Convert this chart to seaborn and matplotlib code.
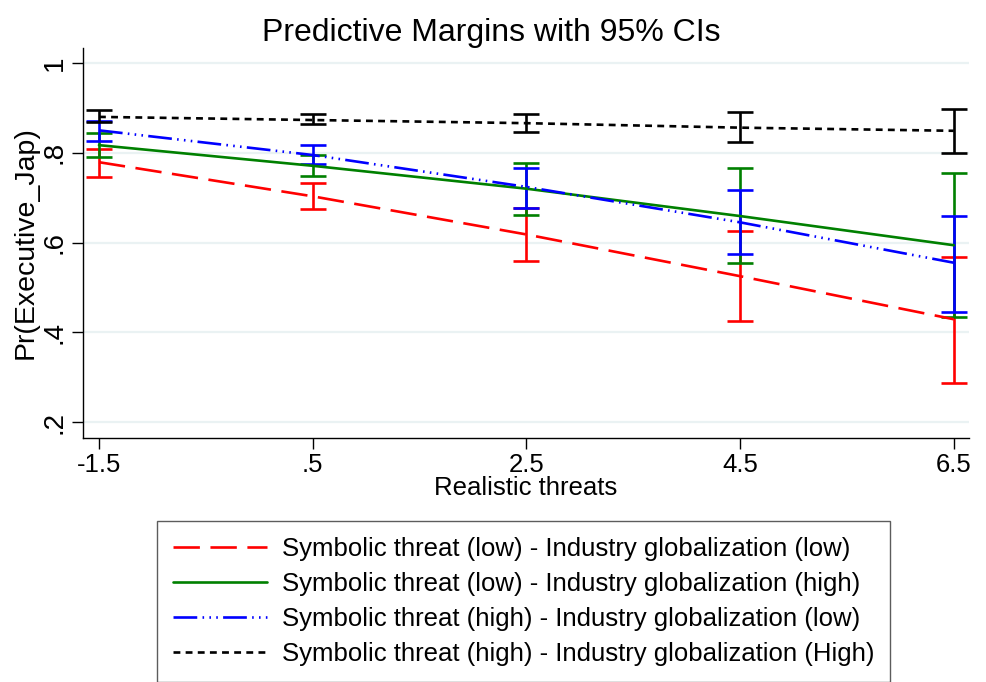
import numpy as np
import pandas as pd
import matplotlib
matplotlib.use("Agg")
import matplotlib.pyplot as plt
import seaborn as sns

# ---- data ----
x_values = [-1.5, 0.5, 2.5, 4.5, 6.5]
x_ticklabels = ["-1.5", ".5", "2.5", "4.5", "6.5"]
y_ticks = [0.2, 0.4, 0.6, 0.8, 1.0]
y_ticklabels = [".2", ".4", ".6", ".8", "1"]

series_names = [
    "Symbolic threat (low) - Industry globalization (low)",
    "Symbolic threat (low) - Industry globalization (high)",
    "Symbolic threat (high) - Industry globalization (low)",
    "Symbolic threat (high) - Industry globalization (High)",
]

low_low = [0.779, 0.703, 0.618, 0.525, 0.429]
low_low_lo = [0.746, 0.675, 0.558, 0.424, 0.286]
low_low_hi = [0.808, 0.732, 0.678, 0.625, 0.568]

low_high = [0.817, 0.771, 0.720, 0.659, 0.594]
low_high_lo = [0.791, 0.748, 0.662, 0.555, 0.435]
low_high_hi = [0.844, 0.794, 0.777, 0.765, 0.756]

high_low = [0.850, 0.795, 0.724, 0.645, 0.555]
high_low_lo = [0.826, 0.774, 0.678, 0.575, 0.446]
high_low_hi = [0.871, 0.817, 0.765, 0.716, 0.660]

high_high = [0.880, 0.873, 0.866, 0.856, 0.849]
high_high_lo = [0.868, 0.864, 0.846, 0.824, 0.800]
high_high_hi = [0.895, 0.886, 0.886, 0.891, 0.897]

means = [low_low, low_high, high_low, high_high]
lows = [low_low_lo, low_high_lo, high_low_lo, high_high_lo]
highs = [low_low_hi, low_high_hi, high_low_hi, high_high_hi]

colors = ["#ff0000", "#008000", "#0000ff", "#000000"]

rows = []
for name, m, lo, hi in zip(series_names, means, lows, highs):
    for xv, mv, l, h in zip(x_values, m, lo, hi):
        rows.append({"x": xv, "y": mv, "lo": l, "hi": h, "series": name})
df = pd.DataFrame(rows)

# ---- style ----
sns.set_theme(style="white")
plt.rcParams["font.family"] = ["Liberation Sans", "DejaVu Sans"]
plt.rcParams["text.color"] = "black"
plt.rcParams["axes.labelcolor"] = "black"
plt.rcParams["xtick.color"] = "black"
plt.rcParams["ytick.color"] = "black"

fig = plt.figure(figsize=(9.86, 6.82), dpi=100)
ax = fig.add_axes([0.0839, 0.3582, 0.8989, 0.5714])

palette = dict(zip(series_names, colors))
dash_styles = dict(zip(series_names, [(10, 4), "", (9, 2, 0.6, 2, 0.6, 2, 0.6, 2), (2.6, 2.0)]))

# error bars
for name, c in zip(series_names, colors):
    d = df[df["series"] == name]
    ax.errorbar(d["x"], d["y"], yerr=[d["y"] - d["lo"], d["hi"] - d["y"]],
                fmt="none", ecolor=c, elinewidth=1.9, capsize=9.5, capthick=1.9, zorder=3)

sns.lineplot(data=df, x="x", y="y", hue="series", style="series",
             palette=palette, dashes=dash_styles, hue_order=series_names,
             style_order=series_names, linewidth=1.9, ax=ax, legend=True, zorder=4)

handles, labels = ax.get_legend_handles_labels()
ax.get_legend().remove()

ax.set_xlim(-1.652, 6.643)
ax.set_ylim(0.165, 1.0335)
ax.set_xticks(x_values)
ax.set_xticklabels(x_ticklabels, fontsize=18.5)
ax.set_yticks(y_ticks)
ax.set_yticklabels(y_ticklabels, rotation=90, va="center", fontsize=20)

ax.grid(axis="y", color="#eaf2f3", linewidth=1.6)
ax.grid(axis="x", visible=False)
ax.set_axisbelow(True)
for s in ["top", "right"]:
    ax.spines[s].set_visible(False)
for s in ["left", "bottom"]:
    ax.spines[s].set_color("#000000")
    ax.spines[s].set_linewidth(1.0)

ax.tick_params(axis="both", which="major", direction="out", length=8, width=1.0,
               color="#000000", labelcolor="#000000", pad=3, left=True, bottom=True)

ax.set_xlabel("Realistic threats", fontsize=18.5, labelpad=-1, color="black")
ax.set_ylabel("Pr(Executive_Jap)", fontsize=20.5, labelpad=2, color="black")

fig.text(0.498, 0.951, "Predictive Margins with 95% CIs", ha="center", va="center",
         fontsize=23, color="black")

leg = fig.legend(handles, labels, loc="upper left", bbox_to_anchor=(0.159, 0.236),
                 fontsize=18.5, frameon=True, fancybox=False, handlelength=3.66,
                 handletextpad=0.58, labelspacing=0.43, borderpad=0.62, borderaxespad=0,
                 labelcolor="black")
leg.get_frame().set_edgecolor("#333333")
leg.get_frame().set_linewidth(1.0)

fig.savefig("out.png", dpi=100, facecolor="white")
